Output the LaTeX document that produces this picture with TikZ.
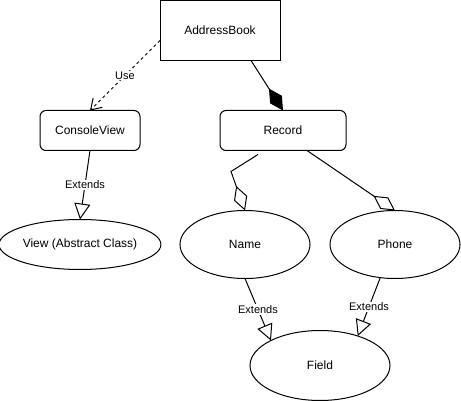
\documentclass[tikz,border=0pt]{standalone}
\usepackage{fontspec}
\setmainfont{Liberation Sans}
\usetikzlibrary{arrows.meta,positioning,shapes.geometric}
\tikzset{
    %Define style for class boxes
    classbox/.style={
           rectangle,
           draw, line width=1pt,
           minimum width=120pt,
           minimum height=60pt,
           inner sep=0pt, outer sep=0pt,
           font=\fontsize{12}{14}\selectfont},
    %Define style for rounded boxes
    roundbox/.style={
           classbox,
           rounded corners=6pt,
           minimum height=40pt},
    %Define style for ellipses
    oval/.style={
           ellipse,
           draw, line width=1pt,
           inner sep=0pt, outer sep=0pt,
           font=\fontsize{12}{14}\selectfont},
    % Define arrow styles
    uses/.style={
           -{Straight Barb[length=10pt,width=13pt]},
           line width=1pt,
           dash pattern=on 3pt off 3pt},
    extends/.style={
           -{Triangle[open,length=16pt,width=16pt]},
           line width=1pt},
    owns/.style={
           -{Diamond[length=26pt,width=14pt]},
           line width=1pt},
    holds/.style={
           -{Diamond[open,length=26pt,width=14pt]},
           line width=1pt},
    % labels on the arrows
    lbl/.style={
           fill=white,
           inner sep=1pt,
           font=\fontsize{11}{13}\selectfont}
}
\begin{document}
\begin{tikzpicture}[x=1pt, y=-1pt]
 \useasboundingbox (0,0) rectangle (461,401);
 %nodes
 \node[classbox] (book) at (220,30.5) {AddressBook};
 \node[roundbox, minimum width=100pt, below=50pt of book, xshift=-130pt] (console) {ConsoleView};
 \node[roundbox, minimum width=126pt, below=50pt of book, xshift=63pt] (record) {Record};
 \node[oval, minimum width=160pt, minimum height=50pt, below=69pt of console, xshift=-10pt]
 (view) {View (Abstract Class)};
 \node[oval, minimum width=130pt, minimum height=68pt, below=60pt of record, xshift=-38pt] (name) {Name};
 \node[oval, minimum width=130pt, minimum height=68pt, right=20pt of name] (phone) {Phone};
 \node[oval, minimum width=140pt, minimum height=70pt, below=52pt of name, xshift=75pt] (field) {Field};
 % connectors
 \draw[uses] ([yshift=-10pt]book.west) -- node[lbl] {Use} (console.north);
 \draw[owns] ([xshift=31pt]book.south) -- (record.north);
 \draw[extends] (console.south) -- node[lbl] {Extends} (view.north);
 \draw[holds] ([xshift=-25pt,yshift=-4pt]record.south) -- ++(-27,17) -- ++(5,14) -- (name.north);
 \draw[holds] ([xshift=24pt]record.south) -- (phone.north);
 \draw[extends] (name.south) -- node[lbl] {Extends} (field.153);
 \draw[extends] (phone.246) -- node[lbl] {Extends} (field.38);
\end{tikzpicture}
\end{document}
